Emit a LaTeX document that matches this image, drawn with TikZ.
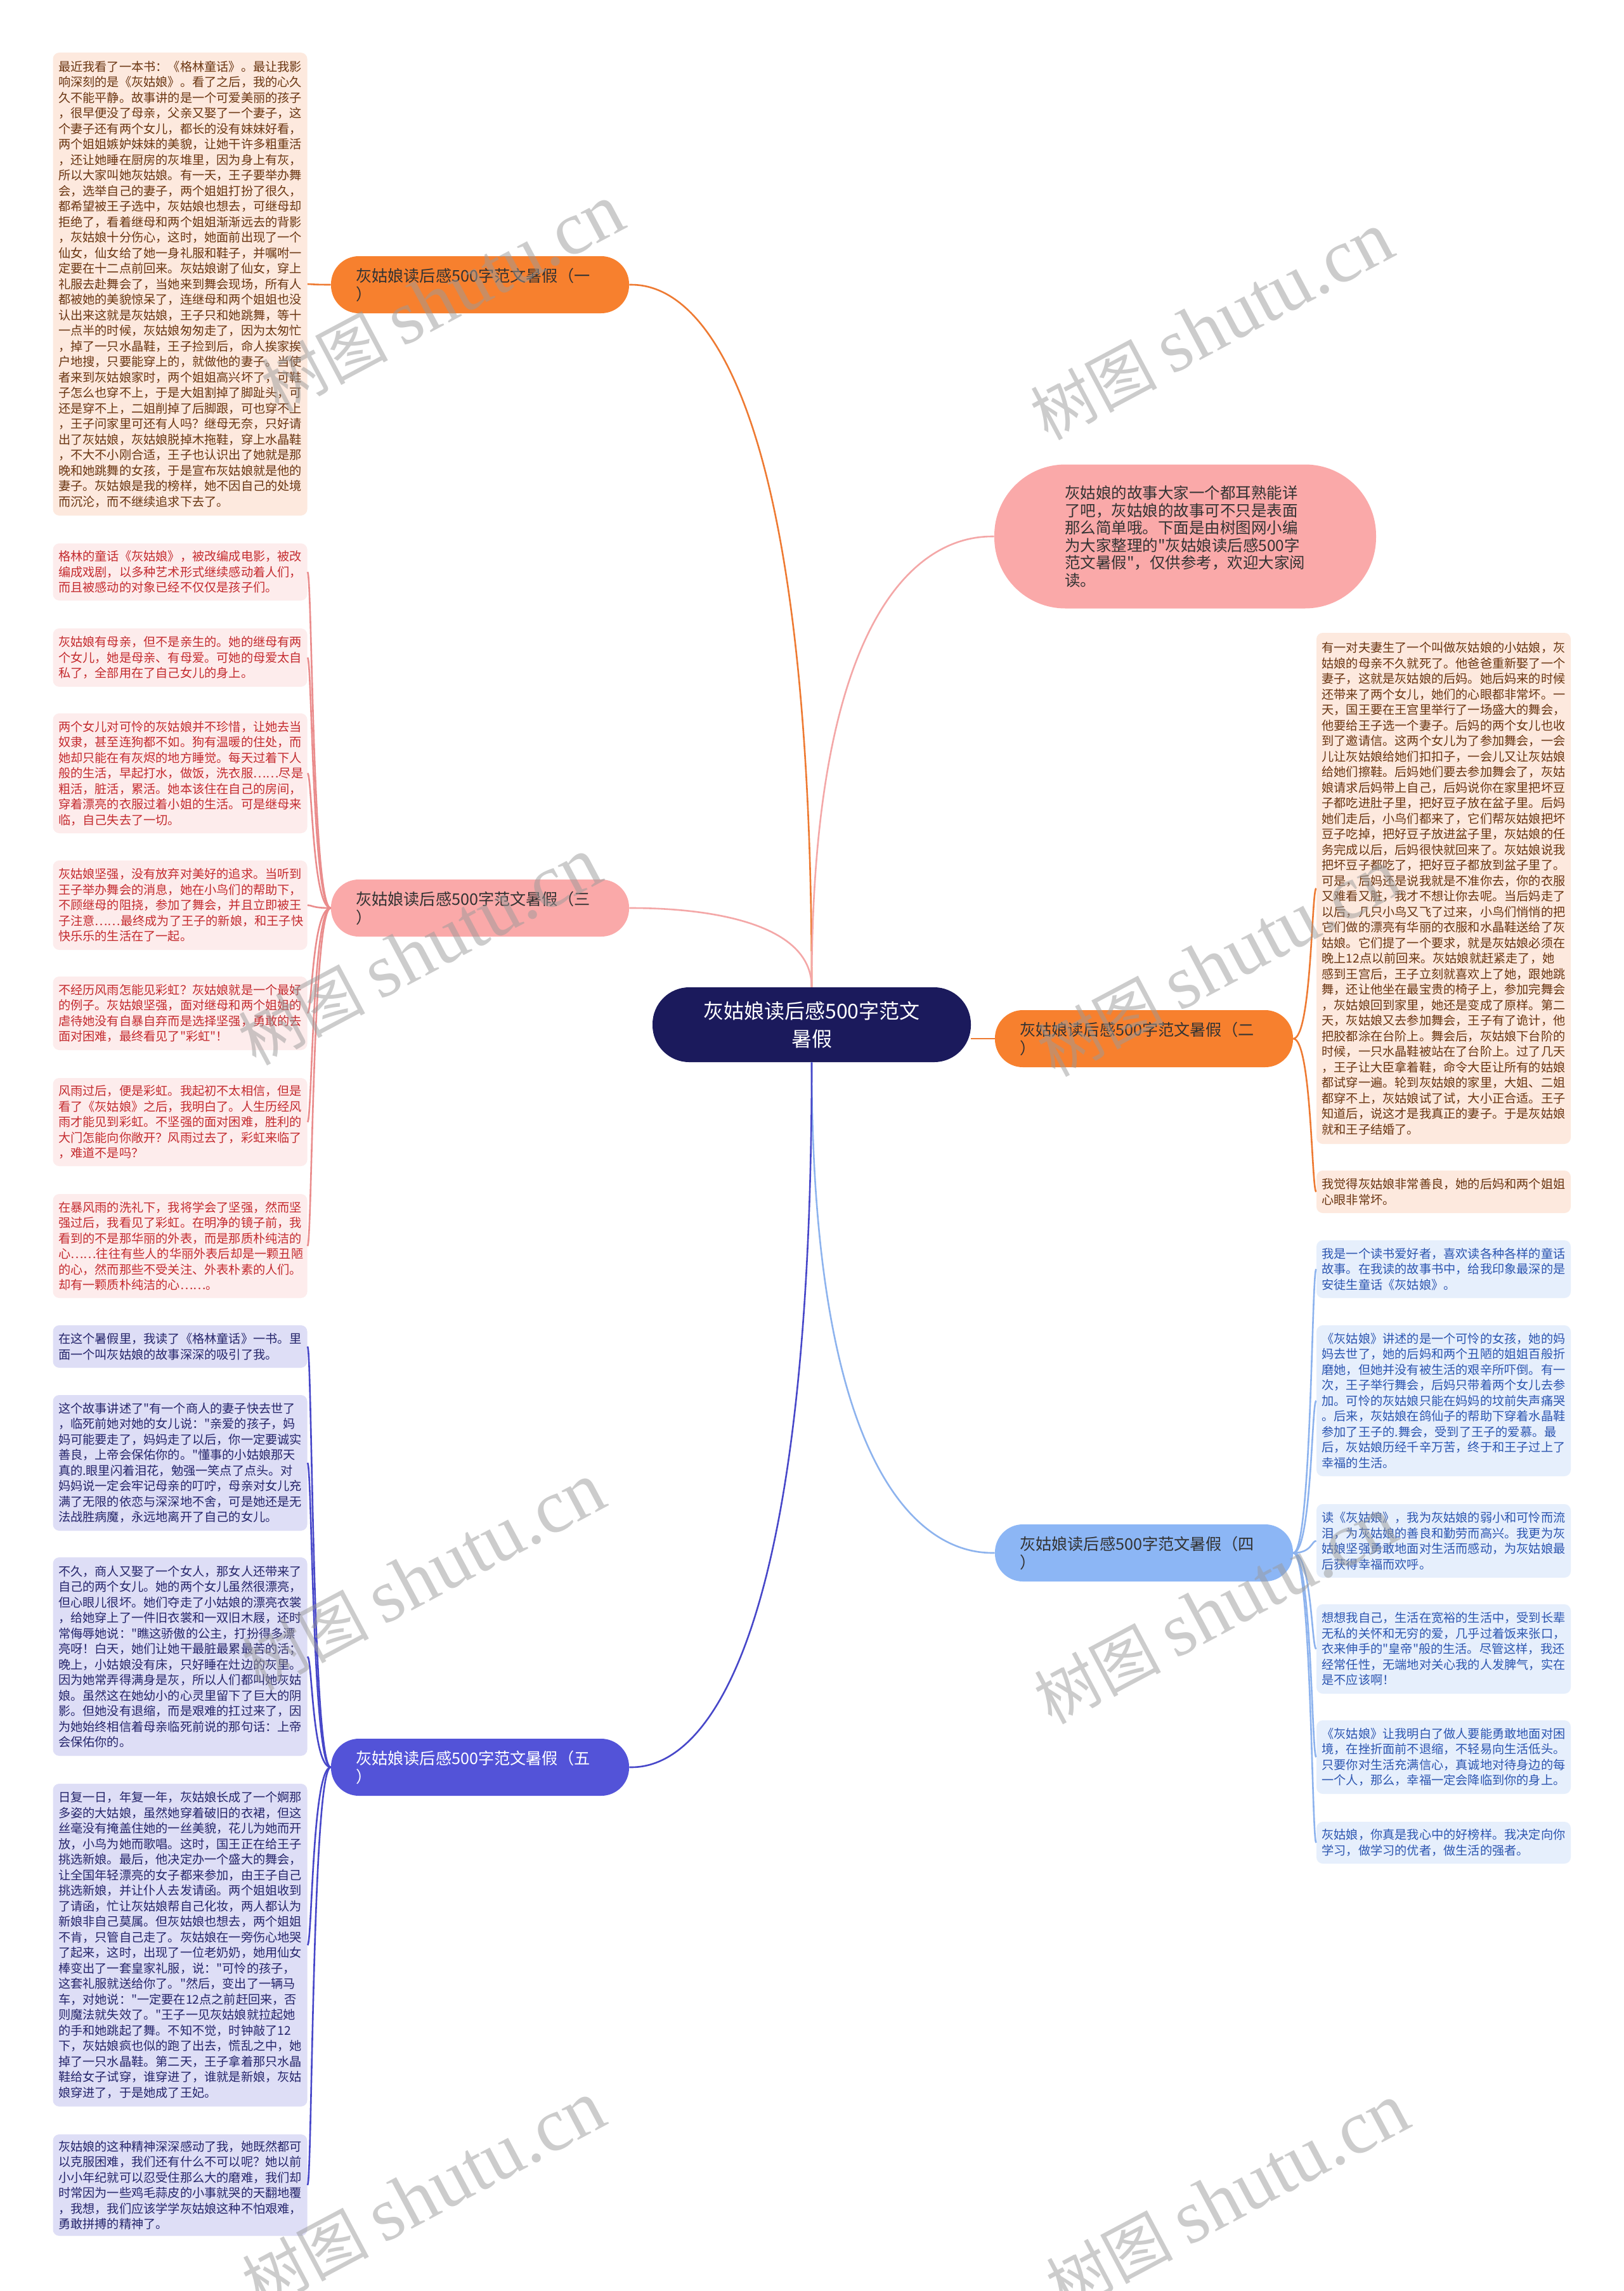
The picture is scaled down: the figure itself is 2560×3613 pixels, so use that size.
\documentclass[tikz,border=0pt]{standalone}
\usepackage{fontspec}
\newfontfamily\cjk{Noto Sans CJK SC}
\newfontfamily\wmlatin{Liberation Serif}
\usetikzlibrary{calc}
\definecolor{navy}{HTML}{1B1A5C}
\definecolor{orangeB}{HTML}{F7802E}
\definecolor{pinkB}{HTML}{FAA9A9}
\definecolor{blueB}{HTML}{5353D8}
\definecolor{skyB}{HTML}{8CB6F5}
\definecolor{peachF}{HTML}{FDE9DE}
\definecolor{peachT}{HTML}{6A3511}
\definecolor{pinkF}{HTML}{FDECEC}
\definecolor{pinkT}{HTML}{C42B2F}
\definecolor{lavF}{HTML}{DEDEF6}
\definecolor{lavT}{HTML}{25256B}
\definecolor{skyF}{HTML}{E6EFFC}
\definecolor{skyT}{HTML}{2C55B0}
\definecolor{orangeL}{HTML}{EE7A32}
\definecolor{pinkL}{HTML}{F4A7A7}
\definecolor{pinkLL}{HTML}{EA8C8C}
\definecolor{skyL}{HTML}{8DB3EE}
\definecolor{blueL}{HTML}{4747C9}
\definecolor{wmgray}{HTML}{9A9A9A}
\newcommand{\leftconn}[3]{\draw[#1] (#2.west) .. controls ($(#2.west)!0.8!(#2.west -| #3.east)$) and ($(#3.east)!0.2!(#3.east -| #2.west)$) .. (#3.east);}
\newcommand{\rightconn}[3]{\draw[#1] (#2.east) .. controls ($(#2.east)!0.8!(#2.east -| #3.west)$) and ($(#3.west)!0.2!(#3.west -| #2.east)$) .. (#3.west);}
\newcommand{\centerconn}[3]{\draw[#1] (#2) .. controls (#2 |- #3) and ($(#2 |- #3)!0.85!(#3)$) .. (#3);}
\begin{document}
\begin{tikzpicture}[x=0.5pt,y=-0.5pt,
  conn/.style={line width=1.3pt},
  leaf/.style={rounded corners=5pt, inner xsep=4.25pt, inner ysep=0pt, text width=192pt, align=left, font=\cjk\fontsize{9.6pt}{12.25pt}\selectfont},
  leafo/.style={leaf, fill=peachF, text=peachT},
  leafp/.style={leaf, fill=pinkF, text=pinkT},
  leafb/.style={leaf, fill=lavF, text=lavT},
  leafs/.style={leaf, fill=skyF, text=skyT},
  branch/.style={rounded corners=22pt, minimum height=45pt, inner xsep=19.5pt, inner ysep=0pt, text width=196pt, align=left, font=\cjk\fontsize{12.6pt}{14.5pt}\selectfont},
  centerbox/.style={fill=navy, text=white, rounded corners=29pt, minimum width=251pt, minimum height=59pt, align=center, font=\cjk\fontsize{16pt}{22pt}\selectfont},
  introbox/.style={fill=pinkB, text=black!80, rounded corners=56pt, minimum height=113.5pt, inner xsep=55.5pt, inner ysep=0pt, text width=190pt, align=left, font=\cjk\fontsize{12.25pt}{13.75pt}\selectfont},
  wm/.style={text=wmgray, opacity=0.5, font=\cjk\fontsize{50pt}{50pt}\selectfont}
]
\fill[white] (0,0) rectangle (2560,3613);
\useasboundingbox (0,0) rectangle (2560,3613);

% center and branches
\node[centerbox] (c) at (1280,1616) {灰姑娘读后感500字范文\\暑假};
\node[branch, fill=orangeB, text=black!80] (B1) at (757,449) {灰姑娘读后感500字范文暑假（一\\）};
\node[branch, fill=pinkB, text=black!80] (B3) at (757,1432) {灰姑娘读后感500字范文暑假（三\\）};
\node[branch, fill=blueB, text=white] (B5) at (757,2787) {灰姑娘读后感500字范文暑假（五\\）};
\node[branch, fill=orangeB, text=black!80] (B2) at (1804,1638) {灰姑娘读后感500字范文暑假（二\\）};
\node[branch, fill=skyB, text=black!80] (B4) at (1804,2449) {灰姑娘读后感500字范文暑假（四\\）};
\node[introbox] (intro) at (1869,846) {灰姑娘的故事大家一个都耳熟能详\\了吧，灰姑娘的故事可不只是表面\\那么简单哦。下面是由树图网小编\\为大家整理的"灰姑娘读后感500字\\范文暑假"，仅供参考，欢迎大家阅\\读。};

% left leaves
\node[leafo, minimum height=365pt] (L1) at (284,448) {最近我看了一本书：《格林童话》。最让我影\\响深刻的是《灰姑娘》。看了之后，我的心久\\久不能平静。故事讲的是一个可爱美丽的孩子\\，很早便没了母亲，父亲又娶了一个妻子，这\\个妻子还有两个女儿，都长的没有妹妹好看，\\两个姐姐嫉妒妹妹的美貌，让她干许多粗重活\\，还让她睡在厨房的灰堆里，因为身上有灰，\\所以大家叫她灰姑娘。有一天，王子要举办舞\\会，选举自己的妻子，两个姐姐打扮了很久，\\都希望被王子选中，灰姑娘也想去，可继母却\\拒绝了，看着继母和两个姐姐渐渐远去的背影\\，灰姑娘十分伤心，这时，她面前出现了一个\\仙女，仙女给了她一身礼服和鞋子，并嘱咐一\\定要在十二点前回来。灰姑娘谢了仙女，穿上\\礼服去赴舞会了，当她来到舞会现场，所有人\\都被她的美貌惊呆了，连继母和两个姐姐也没\\认出来这就是灰姑娘，王子只和她跳舞，等十\\一点半的时候，灰姑娘匆匆走了，因为太匆忙\\，掉了一只水晶鞋，王子捡到后，命人挨家挨\\户地搜，只要能穿上的，就做他的妻子。当使\\者来到灰姑娘家时，两个姐姐高兴坏了，可鞋\\子怎么也穿不上，于是大姐割掉了脚趾头，可\\还是穿不上，二姐削掉了后脚跟，可也穿不上\\，王子问家里可还有人吗？继母无奈，只好请\\出了灰姑娘，灰姑娘脱掉木拖鞋，穿上水晶鞋\\，不大不小刚合适，王子也认识出了她就是那\\晚和她跳舞的女孩，于是宣布灰姑娘就是他的\\妻子。灰姑娘是我的榜样，她不因自己的处境\\而沉沦，而不继续追求下去了。};

\node[leafp, minimum height=45pt] (L3a) at (284,902) {格林的童话《灰姑娘》，被改编成电影，被改\\编成戏剧，以多种艺术形式继续感动着人们，\\而且被感动的对象已经不仅仅是孩子们。};
\node[leafp, minimum height=46pt] (L3b) at (284,1037) {灰姑娘有母亲，但不是亲生的。她的继母有两\\个女儿，她是母亲、有母爱。可她的母爱太自\\私了，全部用在了自己女儿的身上。};
\node[leafp, minimum height=94.5pt] (L3c) at (284,1219.5) {两个女儿对可怜的灰姑娘并不珍惜，让她去当\\奴隶，甚至连狗都不如。狗有温暖的住处，而\\她却只能在有灰烬的地方睡觉。每天过着下人\\般的生活，早起打水，做饭，洗衣服……尽是\\粗活，脏活，累活。她本该住在自己的房间，\\穿着漂亮的衣服过着小姐的生活。可是继母来\\临，自己失去了一切。};
\node[leafp, minimum height=70.5pt] (L3d) at (284,1427.5) {灰姑娘坚强，没有放弃对美好的追求。当听到\\王子举办舞会的消息，她在小鸟们的帮助下，\\不顾继母的阻挠，参加了舞会，并且立即被王\\子注意……最终成为了王子的新娘，和王子快\\快乐乐的生活在了一起。};
\node[leafp, minimum height=58pt] (L3e) at (284,1598) {不经历风雨怎能见彩虹？灰姑娘就是一个最好\\的例子。灰姑娘坚强，面对继母和两个姐姐的\\虐待她没有自暴自弃而是选择坚强，勇敢的去\\面对困难，最终看见了"彩虹"！};
\node[leafp, minimum height=69.5pt] (L3f) at (284,1769.5) {风雨过后，便是彩虹。我起初不太相信，但是\\看了《灰姑娘》之后，我明白了。人生历经风\\雨才能见到彩虹。不坚强的面对困难，胜利的\\大门怎能向你敞开？风雨过去了，彩虹来临了\\，难道不是吗？};
\node[leafp, minimum height=82pt] (L3g) at (284,1965) {在暴风雨的洗礼下，我将学会了坚强，然而坚\\强过后，我看见了彩虹。在明净的镜子前，我\\看到的不是那华丽的外表，而是那质朴纯洁的\\心……往往有些人的华丽外表后却是一颗丑陋\\的心，然而那些不受关注、外表朴素的人们。\\却有一颗质朴纯洁的心……。};

\node[leafb, minimum height=33.5pt] (L5a) at (284,2123.5) {在这个暑假里，我读了《格林童话》一书。里\\面一个叫灰姑娘的故事深深的吸引了我。};
\node[leafb, minimum height=107pt] (L5b) at (284,2307) {这个故事讲述了"有一个商人的妻子快去世了\\，临死前她对她的女儿说："亲爱的孩子，妈\\妈可能要走了，妈妈走了以后，你一定要诚实\\善良，上帝会保佑你的。"懂事的小姑娘那天\\真的.眼里闪着泪花，勉强一笑点了点头。对\\妈妈说一定会牢记母亲的叮咛，母亲对女儿充\\满了无限的依恋与深深地不舍，可是她还是无\\法战胜病魔，永远地离开了自己的女儿。};
\node[leafb, minimum height=156.5pt] (L5c) at (284,2612.5) {不久，商人又娶了一个女人，那女人还带来了\\自己的两个女儿。她的两个女儿虽然很漂亮，\\但心眼儿很坏。她们夺走了小姑娘的漂亮衣裳\\，给她穿上了一件旧衣裳和一双旧木屐，还时\\常侮辱她说："瞧这骄傲的公主，打扮得多漂\\亮呀！白天，她们让她干最脏最累最苦的活；\\晚上，小姑娘没有床，只好睡在灶边的灰里。\\因为她常弄得满身是灰，所以人们都叫她灰姑\\娘。虽然这在她幼小的心灵里留下了巨大的阴\\影。但她没有退缩，而是艰难的扛过来了，因\\为她始终相信着母亲临死前说的那句话：上帝\\会保佑你的。};
\node[leafb, minimum height=254.5pt] (L5d) at (284,3067.5) {日复一日，年复一年，灰姑娘长成了一个婀那\\多姿的大姑娘，虽然她穿着破旧的衣裙，但这\\丝毫没有掩盖住她的一丝美貌，花儿为她而开\\放，小鸟为她而歌唱。这时，国王正在给王子\\挑选新娘。最后，他决定办一个盛大的舞会，\\让全国年轻漂亮的女子都来参加，由王子自己\\挑选新娘，并让仆人去发请函。两个姐姐收到\\了请函，忙让灰姑娘帮自己化妆，两人都认为\\新娘非自己莫属。但灰姑娘也想去，两个姐姐\\不肯，只管自己走了。灰姑娘在一旁伤心地哭\\了起来，这时，出现了一位老奶奶，她用仙女\\棒变出了一套皇家礼服，说："可怜的孩子，\\这套礼服就送给你了。"然后，变出了一辆马\\车，对她说："一定要在12点之前赶回来，否\\则魔法就失效了。"王子一见灰姑娘就拉起她\\的手和她跳起了舞。不知不觉，时钟敲了12\\下，灰姑娘疯也似的跑了出去，慌乱之中，她\\掉了一只水晶鞋。第二天，王子拿着那只水晶\\鞋给女子试穿，谁穿进了，谁就是新娘，灰姑\\娘穿进了，于是她成了王妃。};
\node[leafb, minimum height=80pt] (L5e) at (284,3446) {灰姑娘的这种精神深深感动了我，她既然都可\\以克服困难，我们还有什么不可以呢？她以前\\小小年纪就可以忍受住那么大的磨难，我们却\\时常因为一些鸡毛蒜皮的小事就哭的天翻地覆\\，我想，我们应该学学灰姑娘这种不怕艰难，\\勇敢拼搏的精神了。};

% right leaves
\node[leafo, minimum height=403pt] (R2a) at (2276.5,1401) {有一对夫妻生了一个叫做灰姑娘的小姑娘，灰\\姑娘的母亲不久就死了。他爸爸重新娶了一个\\妻子，这就是灰姑娘的后妈。她后妈来的时候\\还带来了两个女儿，她们的心眼都非常坏。一\\天，国王要在王宫里举行了一场盛大的舞会，\\他要给王子选一个妻子。后妈的两个女儿也收\\到了邀请信。这两个女儿为了参加舞会，一会\\儿让灰姑娘给她们扣扣子，一会儿又让灰姑娘\\给她们擦鞋。后妈她们要去参加舞会了，灰姑\\娘请求后妈带上自己，后妈说你在家里把坏豆\\子都吃进肚子里，把好豆子放在盆子里。后妈\\她们走后，小鸟们都来了，它们帮灰姑娘把坏\\豆子吃掉，把好豆子放进盆子里，灰姑娘的任\\务完成以后，后妈很快就回来了。灰姑娘说我\\把坏豆子都吃了，把好豆子都放到盆子里了。\\可是，后妈还是说我就是不准你去，你的衣服\\又难看又脏，我才不想让你去呢。当后妈走了\\以后，几只小鸟又飞了过来，小鸟们悄悄的把\\它们做的漂亮有华丽的衣服和水晶鞋送给了灰\\姑娘。它们提了一个要求，就是灰姑娘必须在\\晚上12点以前回来。灰姑娘就赶紧走了，她\\感到王宫后，王子立刻就喜欢上了她，跟她跳\\舞，还让他坐在最宝贵的椅子上，参加完舞会\\，灰姑娘回到家里，她还是变成了原样。第二\\天，灰姑娘又去参加舞会，王子有了诡计，他\\把胶都涂在台阶上。舞会后，灰姑娘下台阶的\\时候，一只水晶鞋被站在了台阶上。过了几天\\，王子让大臣拿着鞋，命令大臣让所有的姑娘\\都试穿一遍。轮到灰姑娘的家里，大姐、二姐\\都穿不上，灰姑娘试了试，大小正合适。王子\\知道后，说这才是我真正的妻子。于是灰姑娘\\就和王子结婚了。};
\node[leafo, minimum height=33.5pt] (R2b) at (2276.5,1879.5) {我觉得灰姑娘非常善良，她的后妈和两个姐姐\\心眼非常坏。};

\node[leafs, minimum height=45.5pt] (R4a) at (2276.5,2001.5) {我是一个读书爱好者，喜欢读各种各样的童话\\故事。在我读的故事书中，给我印象最深的是\\安徒生童话《灰姑娘》。};
\node[leafs, minimum height=119pt] (R4b) at (2276.5,2209) {《灰姑娘》讲述的是一个可怜的女孩，她的妈\\妈去世了，她的后妈和两个丑陋的姐姐百般折\\磨她，但她并没有被生活的艰辛所吓倒。有一\\次，王子举行舞会，后妈只带着两个女儿去参\\加。可怜的灰姑娘只能在妈妈的坟前失声痛哭\\。后来，灰姑娘在鸽仙子的帮助下穿着水晶鞋\\参加了王子的.舞会，受到了王子的爱慕。最\\后，灰姑娘历经千辛万苦，终于和王子过上了\\幸福的生活。};
\node[leafs, minimum height=58pt] (R4c) at (2276.5,2430) {读《灰姑娘》，我为灰姑娘的弱小和可怜而流\\泪，为灰姑娘的善良和勤劳而高兴。我更为灰\\姑娘坚强勇敢地面对生活而感动，为灰姑娘最\\后获得幸福而欢呼。};
\node[leafs, minimum height=70.5pt] (R4d) at (2276.5,2600.5) {想想我自己，生活在宽裕的生活中，受到长辈\\无私的关怀和无穷的爱，几乎过着饭来张口，\\衣来伸手的"皇帝"般的生活。尽管这样，我还\\经常任性，无端地对关心我的人发脾气，实在\\是不应该啊！};
\node[leafs, minimum height=58pt] (R4e) at (2276.5,2771) {《灰姑娘》让我明白了做人要能勇敢地面对困\\境，在挫折面前不退缩，不轻易向生活低头。\\只要你对生活充满信心，真诚地对待身边的每\\一个人，那么，幸福一定会降临到你的身上。};
\node[leafs, minimum height=33pt] (R4f) at (2276.5,2906) {灰姑娘，你真是我心中的好榜样。我决定向你\\学习，做学习的优者，做生活的强者。};

% connectors from the center
\centerconn{conn, orangeL}{c.north}{B1.east}
\centerconn{conn, pinkL}{c.north}{B3.east}
\centerconn{conn, pinkL}{c.north}{intro.west}
\centerconn{conn, skyL}{c.south}{B4.west}
\centerconn{conn, blueL}{c.south}{B5.east}
\draw[conn, orangeL] (c.east |- B2.west) -- (B2.west);

% connectors to leaves
\leftconn{conn, orangeL}{B1}{L1}
\foreach \l in {L3a,L3b,L3c,L3d,L3e,L3f,L3g} {\leftconn{conn, pinkLL}{B3}{\l}}
\foreach \l in {L5a,L5b,L5c,L5d,L5e} {\leftconn{conn, blueL}{B5}{\l}}
\foreach \l in {R2a,R2b} {\rightconn{conn, orangeL}{B2}{\l}}
\foreach \l in {R4a,R4b,R4c,R4d,R4e,R4f} {\rightconn{conn, skyL}{B4}{\l}}

% watermarks
\foreach \p [count=\i] in {(698,471),(1911,515),(662,1501),(1922,1519),(668,2487),(1917,2540),(668,3462),(1936,3466)} {
  \node[wm, rotate=28] (wm\i) at \p {树图 {\wmlatin\fontsize{60pt}{60pt}\selectfont shutu.cn}};
}
\end{tikzpicture}
\end{document}
